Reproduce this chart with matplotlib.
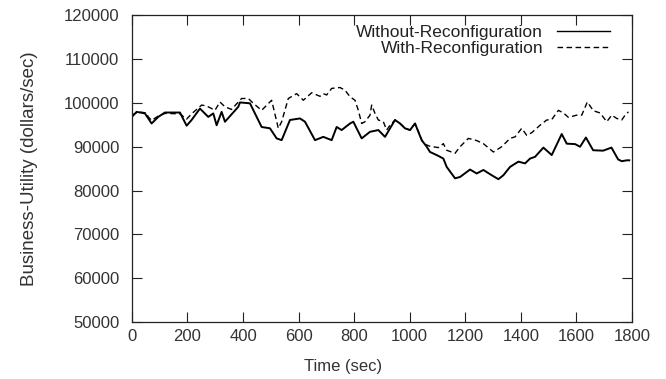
import matplotlib
matplotlib.use("Agg")
import matplotlib.pyplot as plt

# Without-Reconfiguration (solid)
t_without = [0, 17, 47, 71, 95, 119, 173, 197, 215, 245, 275, 293, 305, 323, 335,
             383, 389, 425, 467, 497, 521, 539, 569, 605, 623, 659, 689, 719, 737,
             755, 785, 797, 827, 857, 887, 911, 947, 965, 983, 1001, 1019, 1043,
             1061, 1073, 1097, 1121, 1133, 1163, 1181, 1217, 1241, 1265, 1295,
             1319, 1337, 1361, 1391, 1415, 1433, 1451, 1481, 1511, 1547, 1565,
             1595, 1613, 1634, 1660, 1696, 1726, 1750, 1763, 1781, 1790]
u_without = [96800, 97950, 97600, 95300, 96800, 97800, 97800, 94800, 96100, 98700,
             96800, 97600, 94900, 97950, 95700, 99100, 100100, 99900, 94500, 94200,
             91900, 91500, 96100, 96450, 95700, 91500, 92250, 91500, 94500, 93800,
             95300, 95700, 91900, 93400, 93800, 92250, 96100, 95300, 94200, 93800,
             95300, 91500, 90000, 88800, 88100, 87300, 85400, 82800, 83100, 84800,
             83900, 84700, 83500, 82600, 83500, 85400, 86600, 86200, 87300, 87700,
             89800, 88100, 92900, 90700, 90600, 90000, 92100, 89200, 89100, 89800,
             87100, 86700, 86900, 86900]

# With-Reconfiguration (dashed)
t_with = [0, 23, 53, 59, 71, 95, 119, 173, 197, 215, 251, 269, 299, 317, 335, 359,
          383, 395, 419, 437, 467, 503, 527, 539, 563, 593, 617, 647, 677, 689, 701,
          719, 749, 767, 785, 803, 815, 827, 839, 857, 863, 875, 887, 905, 917, 929,
          947, 965, 983, 1001, 1019, 1049, 1073, 1103, 1121, 1133, 1163, 1181, 1211,
          1241, 1265, 1301, 1331, 1361, 1379, 1403, 1421, 1439, 1469, 1493, 1511,
          1535, 1553, 1571, 1601, 1619, 1639, 1661, 1685, 1709, 1727, 1745, 1763,
          1775, 1787]
u_with = [97200, 97950, 97700, 96800, 96000, 97000, 97600, 97500, 96300, 97500,
          99500, 99300, 98300, 100200, 99100, 98500, 100200, 101000, 101000, 99900,
          98300, 100600, 94200, 95700, 101000, 102100, 100600, 102300, 101500, 102100,
          101800, 103300, 103500, 102900, 101400, 100600, 98300, 95300, 95700, 97200,
          99500, 97600, 96100, 95700, 93800, 94900, 96100, 95300, 94200, 93800, 95300,
          90700, 90100, 89800, 90700, 89200, 88500, 90000, 91900, 91400, 90700, 88800,
          90000, 91900, 92250, 94200, 92600, 93200, 94900, 96100, 96200, 98300, 97700,
          96700, 97200, 97200, 100200, 98200, 97700, 95700, 97200, 96450, 96100, 97200,
          97950]

x_ticks = [0, 200, 400, 600, 800, 1000, 1200, 1400, 1600, 1800]
y_ticks = [50000, 60000, 70000, 80000, 90000, 100000, 110000, 120000]

plt.rcParams['font.family'] = ['Liberation Sans', 'DejaVu Sans']

fig = plt.figure(figsize=(6.66, 3.79), dpi=100)
ax = fig.add_axes([0.198, 0.150, 0.751, 0.810])

ax.plot(t_without, u_without, color='black', lw=1.4, label='Without-Reconfiguration')
ax.plot(t_with, u_with, color='black', lw=1.0, linestyle=(0, (4, 2.5)),
        label='With-Reconfiguration')

ax.set_xlim(0, 1800)
ax.set_ylim(50000, 120000)
ax.set_xticks(x_ticks)
ax.set_yticks(y_ticks)
ax.tick_params(direction='in', length=7, width=0.8, top=True, right=True,
               colors='#222222', labelcolor='#333333', labelsize=12)
ax.tick_params(axis='x', pad=5)
ax.tick_params(axis='y', pad=9)
for s in ax.spines.values():
    s.set_color('#222222')
    s.set_linewidth(0.9)

ax.set_xlabel('Time (sec)', color='#333333', fontsize=12)
ax.set_ylabel('Business-Utility (dollars/sec)', color='#333333', fontsize=13.5)
ax.xaxis.set_label_coords(0.422, -0.12)
ax.yaxis.set_label_coords(-0.188, 0.5)

leg = ax.legend(loc='upper right', bbox_to_anchor=(1 - 22 / 500, 1 - 10 / 307),
                frameon=False, markerfirst=False, handlelength=3.05,
                handletextpad=0.8, borderaxespad=0, borderpad=0,
                labelspacing=0.05, fontsize=12.5, labelcolor='#222222')
for line in leg.get_lines():
    line.set_linewidth(1.0)

fig.savefig('out.png', dpi=100)
